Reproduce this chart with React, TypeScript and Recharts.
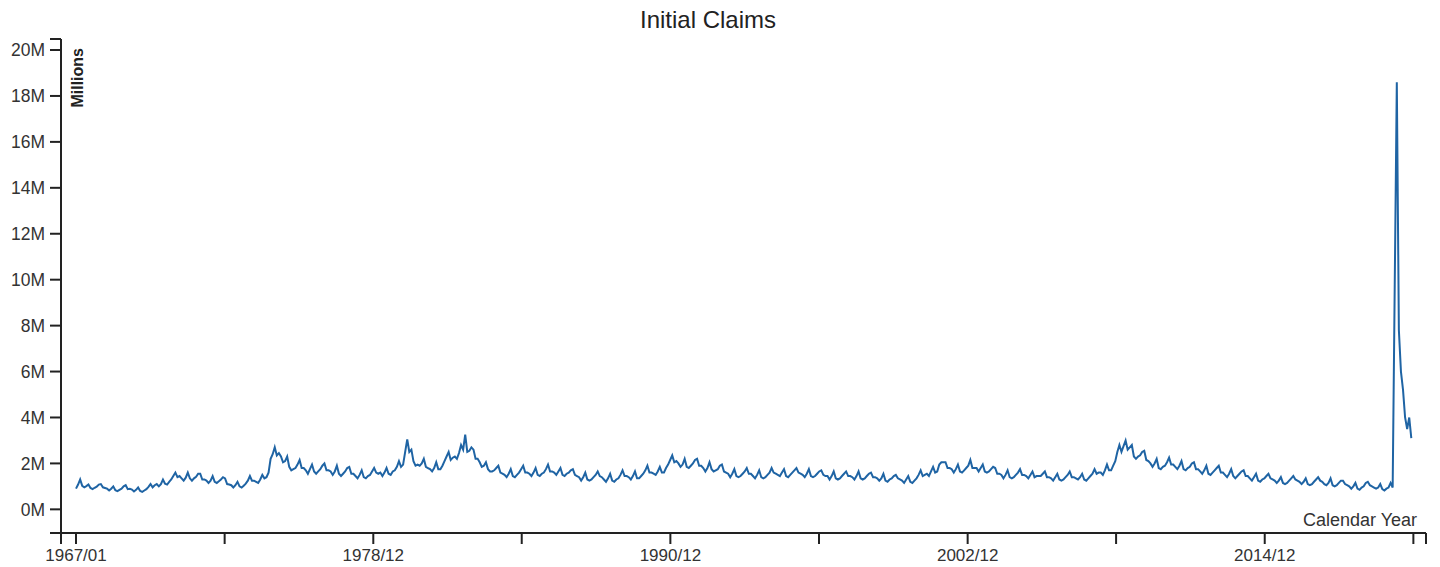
import { LineChart, Line, XAxis, YAxis } from 'recharts'

// monthly initial claims, thousands, starting 1967/01 (one row per year)
const claimsK = [
  900, 1080, 1300, 1020, 960, 1010, 1080, 930, 880, 940, 990, 1080,
  1100, 960, 930, 900, 820, 900, 1000, 830, 790, 850, 900, 1000,
  1050, 880, 900, 860, 780, 850, 950, 800, 760, 820, 880, 980,
  1100, 960, 1050, 1100, 1000, 1100, 1300, 1120, 1080, 1200, 1300, 1450,
  1600, 1400, 1450, 1350, 1250, 1380, 1600, 1350, 1250, 1350, 1420, 1550,
  1550, 1300, 1300, 1250, 1150, 1250, 1450, 1200, 1150, 1220, 1300, 1400,
  1350, 1100, 1080, 1050, 950, 1050, 1200, 1000, 950, 1030, 1120, 1250,
  1450, 1250, 1250, 1200, 1150, 1300, 1500, 1350, 1400, 1600, 2200, 2400,
  2700, 2350, 2450, 2300, 2050, 2100, 2300, 1850, 1700, 1750, 1800, 1950,
  2150, 1800, 1800, 1700, 1550, 1750, 1950, 1650, 1550, 1650, 1750, 1900,
  2000, 1700, 1700, 1650, 1500, 1650, 1900, 1550, 1450, 1550, 1650, 1800,
  1850, 1550, 1550, 1450, 1350, 1500, 1700, 1400, 1350, 1450, 1500, 1650,
  1800, 1600, 1550, 1600, 1450, 1600, 1800, 1550, 1500, 1650, 1700, 1850,
  2100, 1850, 1950, 2500, 3050, 2500, 2600, 2100, 1900, 1950, 1900, 2000,
  2200, 1850, 1800, 1750, 1650, 1800, 2050, 1750, 1750, 1900, 2100, 2300,
  2500, 2150, 2250, 2300, 2200, 2450, 2800, 2600, 3250, 2500, 2550, 2700,
  2600, 2200, 2200, 2050, 1850, 1900, 2050, 1750, 1650, 1650, 1700, 1800,
  1900, 1600, 1550, 1500, 1400, 1550, 1750, 1450, 1400, 1500, 1600, 1750,
  1900, 1600, 1600, 1550, 1450, 1600, 1800, 1500, 1450, 1550, 1600, 1750,
  1950, 1650, 1650, 1600, 1500, 1650, 1800, 1500, 1450, 1550, 1600, 1700,
  1750, 1500, 1450, 1400, 1250, 1400, 1600, 1300, 1250, 1300, 1400, 1500,
  1650, 1450, 1400, 1300, 1200, 1350, 1550, 1250, 1200, 1300, 1350, 1500,
  1700, 1450, 1450, 1400, 1300, 1450, 1650, 1350, 1350, 1450, 1550, 1700,
  1900, 1600, 1600, 1550, 1500, 1650, 1850, 1600, 1600, 1800, 1950, 2150,
  2350, 2050, 2100, 2000, 1850, 1950, 2200, 1850, 1800, 1900, 2000, 2150,
  2200, 1900, 1900, 1800, 1650, 1800, 2050, 1750, 1650, 1700, 1750, 1900,
  1950, 1650, 1600, 1550, 1400, 1550, 1750, 1450, 1400, 1450, 1550, 1650,
  1800, 1550, 1550, 1450, 1350, 1500, 1700, 1400, 1350, 1400, 1500, 1600,
  1800, 1600, 1550, 1500, 1450, 1600, 1750, 1450, 1400, 1500, 1600, 1700,
  1800, 1600, 1550, 1500, 1400, 1550, 1750, 1450, 1400, 1450, 1550, 1650,
  1700, 1500, 1450, 1450, 1300, 1450, 1650, 1350, 1300, 1350, 1450, 1550,
  1650, 1450, 1450, 1400, 1300, 1450, 1650, 1350, 1300, 1350, 1450, 1550,
  1600, 1400, 1400, 1350, 1250, 1350, 1550, 1250, 1200, 1300, 1350, 1450,
  1500, 1350, 1300, 1250, 1150, 1300, 1450, 1200, 1150, 1250, 1350, 1500,
  1700, 1450, 1500, 1550, 1450, 1650, 1850, 1600, 1650, 1950, 2050, 2050,
  2050, 1800, 1800, 1750, 1600, 1750, 1950, 1650, 1600, 1700, 1800, 1900,
  2150, 1800, 1800, 1800, 1650, 1800, 1950, 1650, 1600, 1650, 1750, 1850,
  1800, 1550, 1550, 1500, 1350, 1500, 1700, 1400, 1350, 1400, 1500, 1600,
  1750, 1500, 1500, 1450, 1350, 1500, 1650, 1400, 1450, 1450, 1450, 1550,
  1650, 1400, 1400, 1350, 1250, 1400, 1550, 1300, 1250, 1300, 1400, 1500,
  1650, 1400, 1400, 1350, 1300, 1400, 1550, 1300, 1250, 1350, 1450, 1550,
  1750, 1550, 1600, 1600, 1500, 1700, 1950, 1700, 1700, 1900, 2100, 2500,
  2800, 2500, 2750, 3000, 2600, 2700, 2800, 2300, 2200, 2300, 2350, 2500,
  2550, 2150, 2100, 2000, 1850, 2000, 2200, 1800, 1750, 1850, 1900, 2050,
  2250, 1950, 1950, 1850, 1750, 1900, 2100, 1750, 1700, 1800, 1850, 2000,
  2050, 1750, 1750, 1650, 1550, 1700, 1900, 1550, 1500, 1600, 1700, 1800,
  1900, 1600, 1600, 1500, 1400, 1550, 1750, 1450, 1350, 1450, 1550, 1650,
  1700, 1450, 1450, 1350, 1250, 1400, 1550, 1250, 1200, 1300, 1350, 1450,
  1550, 1350, 1300, 1250, 1150, 1250, 1400, 1150, 1100, 1150, 1250, 1350,
  1450, 1300, 1250, 1200, 1100, 1200, 1350, 1100, 1050, 1100, 1200, 1300,
  1400, 1250, 1200, 1100, 1050, 1150, 1350, 1050, 1000, 1050, 1150, 1250,
  1250, 1100, 1050, 1000, 900, 1000, 1150, 900, 850, 950, 1000, 1150,
  1200, 1050, 1000, 950, 900, 950, 1100, 880, 820, 900, 950, 1150,
  950, 9800, 18600, 7800, 6000, 5200, 4000, 3500, 4000, 3100,
]

// x ticks are month indexes from 1967/01; first and last entries are the outer ends
const xTickIdx = [-7.25, 0, 71.8, 143.6, 215.3, 287.1, 358.9, 430.7, 502.4, 574.2, 646, 652.1]
const xTickLabels = ['', '1967/01', '', '1978/12', '', '1990/12', '', '2002/12', '', '2014/12', '', '']
const yTicks = [-1030, 0, 2000, 4000, 6000, 8000, 10000, 12000, 14000, 16000, 18000, 20000, 20480]

const data = claimsK.map((v, i) => ({ i, v }))

const font = '"Liberation Sans", Arial, sans-serif'
const axisStyle = { stroke: '#222', strokeWidth: 2 }
const tickStyle = { fill: '#333', fontSize: 17.5, fontFamily: font }

function App() {
  return (
    <div style={{ position: 'absolute', left: 0, top: 0, width: 1440, height: 567, background: '#fff' }}>
      <LineChart width={1440} height={567} data={data} margin={{ top: 39, right: 14, bottom: 0, left: 0 }}>
        <XAxis
          dataKey="i"
          type="number"
          domain={[-7.25, 652.1]}
          allowDataOverflow
          ticks={xTickIdx}
          interval={0}
          tickFormatter={(v: number) => xTickLabels[xTickIdx.indexOf(v)] ?? ''}
          height={34}
          tickSize={11}
          tickMargin={5}
          axisLine={axisStyle}
          tickLine={axisStyle}
          tick={{ ...tickStyle, fontSize: 17 }}
        />
        <YAxis
          type="number"
          domain={[-1030, 20480]}
          allowDataOverflow
          ticks={yTicks}
          interval={0}
          tickFormatter={(v: number) => (v % 2000 === 0 ? `${v / 1000}M` : '')}
          width={61}
          tickSize={11}
          tickMargin={5}
          axisLine={axisStyle}
          tickLine={axisStyle}
          tick={tickStyle}
        />
        <Line
          type="linear"
          dataKey="v"
          stroke="#1f64a4"
          strokeWidth={2}
          dot={false}
          isAnimationActive={false}
        />
      </LineChart>
      <svg
        width={1440}
        height={567}
        style={{ position: 'absolute', left: 0, top: 0, pointerEvents: 'none' }}
      >
        <text x={708} y={28} textAnchor="middle" fontSize={24} fill="#222" fontFamily={font}>
          Initial Claims
        </text>
        <text
          transform="translate(83, 48) rotate(-90)"
          textAnchor="end"
          fontSize={16}
          fontWeight="bold"
          fill="#222"
          fontFamily={font}
        >
          Millions
        </text>
        <text x={1417} y={526} textAnchor="end" fontSize={18} fill="#333" fontFamily={font}>
          Calendar Year
        </text>
      </svg>
    </div>
  )
}

export default App
